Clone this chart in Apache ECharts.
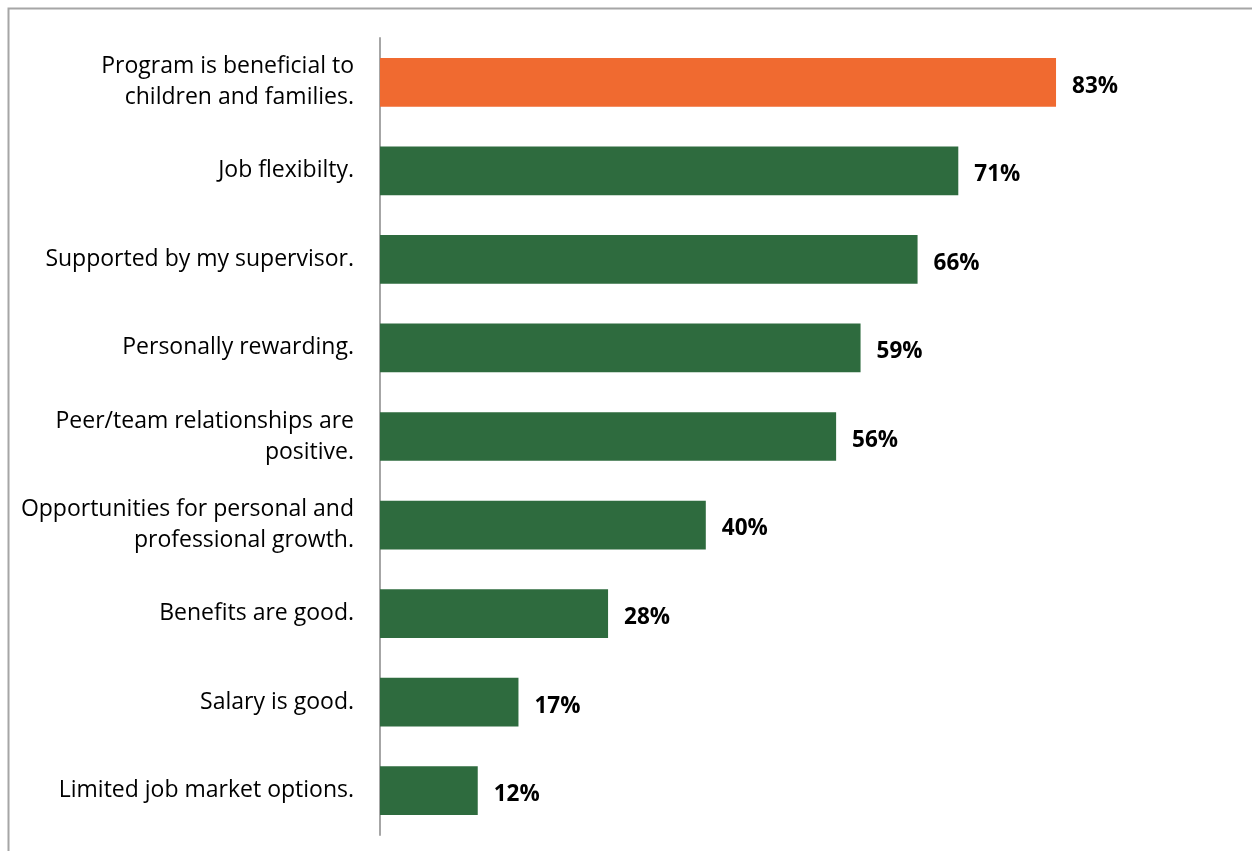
<!DOCTYPE html>
<html>
<head>
<meta charset="utf-8">
<script src="https://cdn.jsdelivr.net/npm/echarts@6/dist/echarts.min.js"></script>
<style>
  html, body { margin: 0; padding: 0; background: #ffffff; }
  #chart { width: 1252px; height: 851px; }
</style>
</head>
<body>
<div id="chart"></div>
<script>
// Reasons for staying in the job, share of respondents (top to bottom)
const categories = [
  'Program is beneficial to\nchildren and families.',
  'Job flexibilty.',
  'Supported by my supervisor.',
  'Personally rewarding.',
  'Peer/team relationships are\npositive.',
  'Opportunities for personal and\nprofessional growth.',
  'Benefits are good.',
  'Salary is good.',
  'Limited job market options.'
];
const values = [83, 71, 66, 59, 56, 40, 28, 17, 12];
const highlightIndex = 0;

const ORANGE = '#F06A30';
const GREEN = '#2E6B3E';
const FONT = '"Open Sans", "Noto Sans", sans-serif';

const chart = echarts.init(document.getElementById('chart'), null, { renderer: 'canvas' });

chart.setOption({
  backgroundColor: '#ffffff',
  animation: false,
  graphic: [
    {
      type: 'rect',
      shape: { x: 8.5, y: 8.5, width: 1300, height: 900 },
      style: { fill: 'none', stroke: '#A6A6A6', lineWidth: 2 },
      silent: true
    }
  ],
  grid: { left: 380, top: 38, width: 814.5, height: 797, containLabel: false },
  xAxis: {
    type: 'value',
    min: 0,
    max: 100,
    show: false
  },
  yAxis: {
    type: 'category',
    inverse: true,
    data: categories,
    axisLine: { show: true, lineStyle: { color: '#A6A6A6', width: 2 } },
    axisTick: { show: false },
    axisLabel: {
      margin: 26,
      align: 'right',
      color: '#000000',
      fontFamily: FONT,
      fontSize: 23,
      lineHeight: 31
    }
  },
  series: [
    {
      type: 'bar',
      data: values.map((v, i) => ({
        value: v,
        itemStyle: { color: i === highlightIndex ? ORANGE : GREEN }
      })),
      barWidth: '55%',
      label: {
        show: true,
        position: 'right',
        distance: 16,
        offset: [0, 4],
        formatter: '{c}%',
        color: '#000000',
        fontFamily: FONT,
        fontWeight: 'bold',
        fontSize: 22.5
      }
    }
  ]
});
</script>
</body>
</html>
